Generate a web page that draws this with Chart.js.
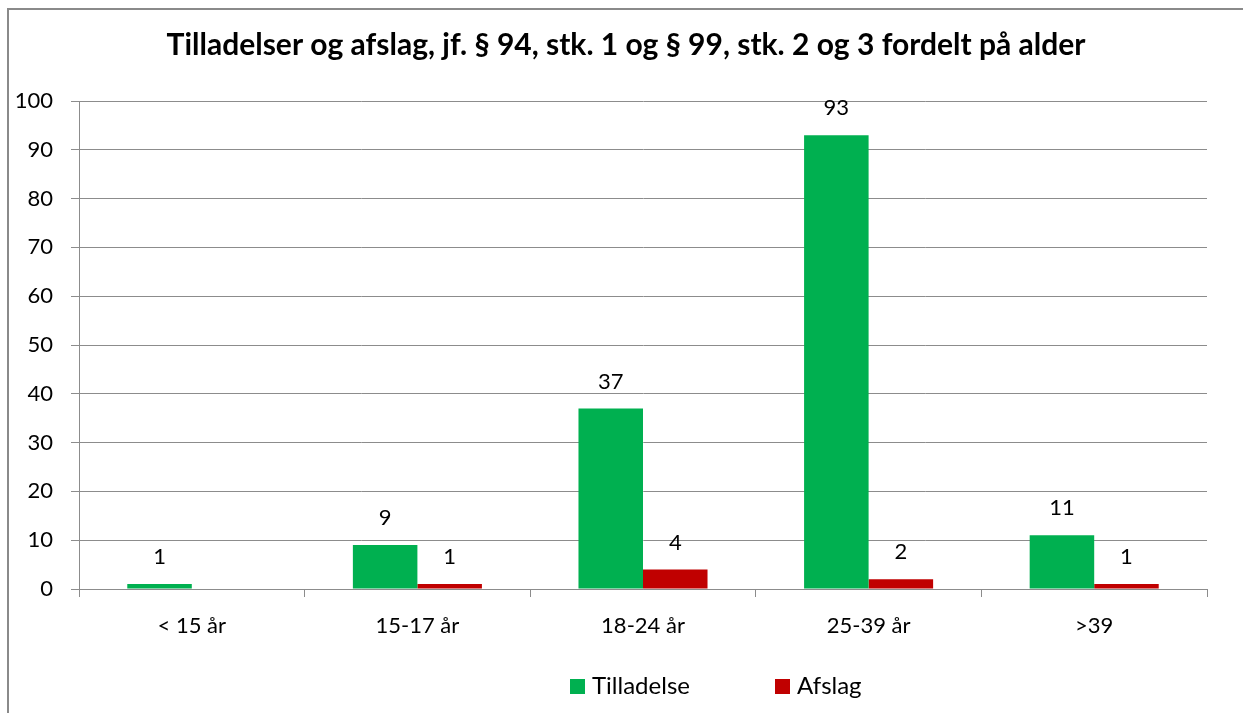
<!DOCTYPE html>
<html>
<head>
<meta charset="utf-8">
<script src="https://cdn.jsdelivr.net/npm/chart.js@4"></script>
<style>
  html, body { margin: 0; padding: 0; background: #fff; }
  #wrap { position: relative; width: 1243px; height: 713px; }
  #frame { position: absolute; left: 7px; top: 8px; right: -10px; bottom: -10px;
           border-left: 2px solid #8a8a8a; border-top: 2px solid #8a8a8a; }
  canvas { position: absolute; left: 0; top: 0; }
</style>
</head>
<body>
<div id="wrap">
  <div id="frame"></div>
  <canvas id="barChart" width="1243" height="713"></canvas>
</div>
<script>
const categories = ["< 15 år", "15-17 år", "18-24 år", "25-39 år", ">39"];
const tilladelse = [1, 9, 37, 93, 11];
const afslag = [null, 1, 4, 2, 1];
const yTicks = [0, 10, 20, 30, 40, 50, 60, 70, 80, 90, 100];

const fontFamily = "Lato, 'Open Sans', sans-serif";

// labels above each bar
const valueLabels = {
    id: "valueLabels",
    afterDatasetsDraw(chart) {
        const ctx = chart.ctx;
        ctx.save();
        ctx.font = "22px " + fontFamily;
        ctx.fillStyle = "#000";
        ctx.textAlign = "center";
        ctx.textBaseline = "middle";
        chart.data.datasets.forEach(function (ds, i) {
            chart.getDatasetMeta(i).data.forEach(function (bar, j) {
                if (ds.data[j] == null) return;
                ctx.fillText(String(ds.data[j]), bar.x, bar.y - 27);
            });
        });
        ctx.restore();
    }
};

// legend at the bottom, drawn by hand so it can sit where the original had it
const bottomLegend = {
    id: "bottomLegend",
    afterLayout(chart) {
        // title in the original is centred a bit right of the canvas middle
        chart.titleBlock.left = 45;
        chart.titleBlock.right = 1207;
    },
    afterDraw(chart) {
        const ctx = chart.ctx;
        const spots = [570, 775];
        ctx.save();
        ctx.font = "24px " + fontFamily;
        ctx.textBaseline = "middle";
        chart.data.datasets.forEach(function (ds, i) {
            ctx.fillStyle = ds.backgroundColor;
            ctx.fillRect(spots[i], 679, 15, 15);
            ctx.fillStyle = "#000";
            ctx.fillText(ds.label, spots[i] + 22, 686);
        });
        ctx.restore();
    }
};

document.addEventListener("DOMContentLoaded", function () {
    const ctx = document.getElementById("barChart").getContext("2d");
    new Chart(ctx, {
        type: "bar",
        data: {
            labels: categories,
            datasets: [{
                label: "Tilladelse",
                data: tilladelse,
                backgroundColor: "#00B050"
            }, {
                label: "Afslag",
                data: afslag,
                backgroundColor: "#C00000"
            }]
        },
        options: {
            responsive: false,
            animation: false,
            layout: { padding: { left: 0, right: 36, top: 0, bottom: 0 } },
            datasets: { bar: { barPercentage: 1, categoryPercentage: 0.572 } },
            plugins: {
                legend: { display: false },
                tooltip: { enabled: false },
                title: {
                    display: true,
                    text: "Tilladelser og afslag, jf. § 94, stk. 1 og § 99, stk. 2 og 3 fordelt på alder",
                    color: "#000",
                    font: { family: fontFamily, size: 30, weight: "bold" },
                    padding: { top: 27, bottom: 38 }
                }
            },
            scales: {
                x: {
                    grid: { color: "#8c8c8c", tickLength: 8, drawOnChartArea: false },
                    border: { color: "#8c8c8c" },
                    ticks: { color: "#000", font: { family: fontFamily, size: 22 }, padding: 16, maxRotation: 0 },
                    afterFit: function (scale) { scale.height = 124; }
                },
                y: {
                    min: 0,
                    max: 100,
                    afterBuildTicks: function (scale) {
                        scale.ticks = yTicks.map(function (v) { return { value: v }; });
                    },
                    grid: { color: "#8c8c8c", tickLength: 8 },
                    border: { color: "#8c8c8c" },
                    ticks: { color: "#000", font: { family: fontFamily, size: 22 }, padding: 18 },
                    afterFit: function (scale) { scale.width = 79; }
                }
            }
        },
        plugins: [valueLabels, bottomLegend]
    });
});
</script>
</body>
</html>
